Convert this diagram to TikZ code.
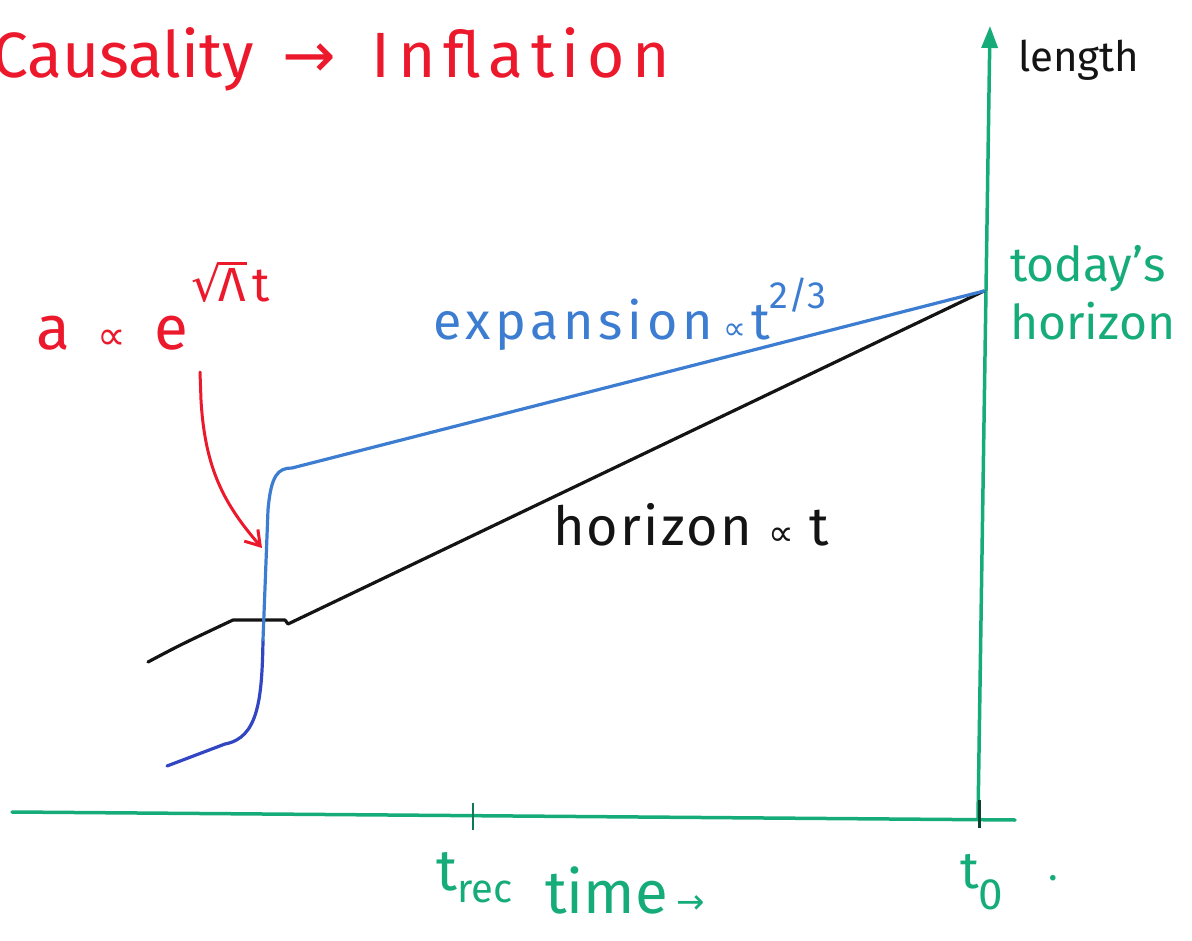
\documentclass[tikz,border=0pt]{standalone}
\usepackage{fontspec}
\setmainfont{Fira Sans}
\newfontfamily\symf{DejaVu Sans}
\usetikzlibrary{arrows.meta}
\definecolor{pred}{RGB}{236,24,44}
\definecolor{pblue}{RGB}{60,125,210}
\definecolor{pdblue}{RGB}{50,70,195}
\definecolor{pgreen}{RGB}{22,172,122}
\definecolor{pblack}{RGB}{20,20,20}
\tikzset{
  axis/.style={draw=pgreen,line width=3.5pt,line cap=round},
  curve/.style={line width=3.2pt,line cap=round,line join=round},
  lbl/.style={inner sep=0pt,anchor=base west},
}
\begin{document}
\begin{tikzpicture}[x=1pt,y=-1pt]
\useasboundingbox (0,0) rectangle (1192,941);
% axes
\coordinate (xs) at (12,812);
\coordinate (xe) at (1015,820);
\coordinate (yb) at (978,818);
\coordinate (yt) at (990,26);
\draw[axis] (xs) -- (xe);
\draw[axis,-{Triangle[length=22pt,width=16pt]}] (yb) -- (yt);
\coordinate (tr1) at (473,803); \coordinate (tr2) at (473,830);
\draw[draw=pgreen!70!black,line width=2.5pt] (tr1) -- (tr2);
\coordinate (t01) at (979,800); \coordinate (t02) at (979,828);
\draw[draw=pgreen!40!black,line width=3pt] (t01) -- (t02);
% today's point
\coordinate (now) at (984,291);
% horizon (black)
\coordinate (h0) at (148,662);
\coordinate (h1) at (233,620);
\coordinate (h2) at (285,620);
\coordinate (h3) at (288,624);
\draw[curve,pblack] (h0) .. controls (180,645) .. (h1) -- (h2) -- (h3) -- (now);
% expansion (blue)
\coordinate (b0) at (167,766);
\coordinate (b1) at (225,744);
\coordinate (b2) at (263,640);
\coordinate (b3) at (292,468);
\draw[curve,pdblue] (b0) -- (b1) .. controls (258,738) and (262,700) .. (b2);
\draw[curve,pblue] (b2) -- (268,510) .. controls (271,475) and (278,468) .. (b3) -- (now);
% red arrow
\coordinate (r0) at (200,372);
\coordinate (r1) at (262,548);
\draw[pred,line width=3pt,line cap=round,-{Straight Barb[length=14pt,width=18pt]}] (r0) -- (201,400) .. controls (205,470) and (225,505) .. (r1);
% texts
\node[lbl,text=pred,font=\fontsize{64}{66}\selectfont] (title) at (-8,78) {Causality\hspace{0.45em}{\symf →}\hspace{0.55em}{\addfontfeature{LetterSpace=12}Inflation}};
\node[lbl,text=pblack,font=\fontsize{42}{46}\selectfont] (length) at (1018,72) {length};
\node[lbl,text=pgreen,font=\fontsize{48}{52}\selectfont] (today) at (1010,282) {today's};
\node[lbl,text=pgreen,font=\fontsize{48}{52}\selectfont] (hor) at (1010,340) {horizon};
\node[lbl,text=pred,font=\fontsize{62}{66}\selectfont] (aexp) at (36,350) {a\hspace{0.45em}{\symf\fontsize{40}{40}\selectfont ∝}\hspace{0.45em}e\kern0.05em\raisebox{0.78em}{\fontsize{48}{50}\selectfont{\symf √}\kern-0.06em\rlap{\rule[0.76em]{0.58em}{0.06em}}Λ\kern0.12em t}};
\node[lbl,text=pblue,font=\fontsize{52}{56}\selectfont] (expl) at (433,340) {{\addfontfeature{LetterSpace=9}expansion}\hspace{0.2em}{\symf\fontsize{32}{32}\selectfont ∝}\hspace{0.1em}t\raisebox{0.6em}{\fontsize{38}{40}\selectfont 2/3}};
\node[lbl,text=pblack,font=\fontsize{54}{58}\selectfont] (horl) at (553,545) {{\addfontfeature{LetterSpace=4}horizon}\hspace{0.3em}{\symf\fontsize{36}{36}\selectfont ∝}\hspace{0.3em}t};
\node[lbl,text=pgreen,font=\fontsize{58}{60}\selectfont] (trec) at (436,890) {t\textsubscript{\fontsize{40}{40}\selectfont rec}};
\node[lbl,text=pgreen,font=\fontsize{60}{62}\selectfont] (time) at (545,913) {time\hspace{0.15em}{\symf\fontsize{34}{34}\selectfont →}};
\node[lbl,text=pgreen,font=\fontsize{52}{54}\selectfont] (tnow) at (960,888) {t\textsubscript{\fontsize{44}{44}\selectfont 0}};
\node[lbl,text=pgreen,font=\fontsize{40}{44}\selectfont] (dot) at (1048,880) {.};
\end{tikzpicture}
\end{document}
